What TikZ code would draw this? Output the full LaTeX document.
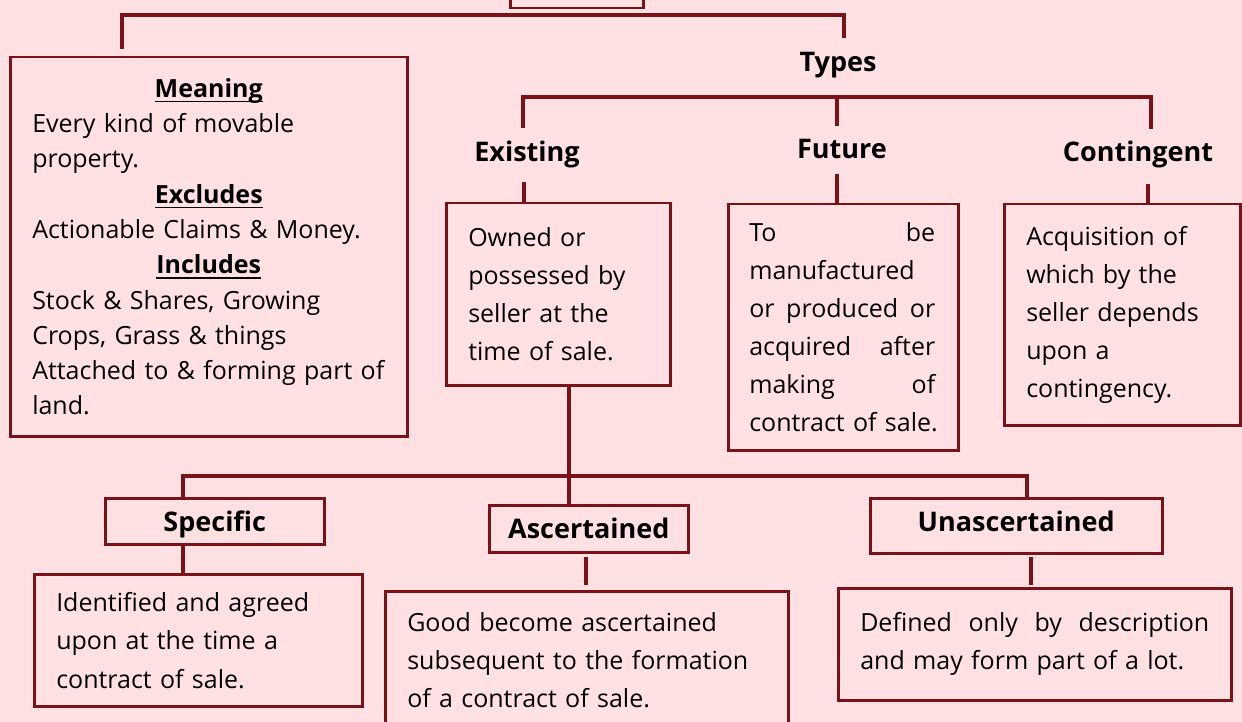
\documentclass[tikz,border=0pt]{standalone}
\usepackage{fontspec}
\setmainfont{Open Sans}
\definecolor{mline}{RGB}{123,18,25}
\definecolor{bgc}{RGB}{255,225,228}
\newcommand\myul[1]{{\setbox0\hbox{#1}\rlap{\rule[-5pt]{\wd0}{1.5pt}}\box0}}
\newcommand\myhead[1]{\makebox[\linewidth]{\myul{\textbf{#1}}}}
\newcommand\spreadline[2]{\leavevmode\hbox to #1{#2}}
\tikzset{
  conn/.style={draw=mline, line width=4pt, line join=miter},
  boxx/.style={draw=mline, line width=2.5pt, inner sep=0pt, anchor=north west, align=left},
  body/.style={font=\fontsize{25}{38}\selectfont},
  lab/.style={font=\bfseries\fontsize{27}{32}\selectfont, inner sep=0pt, anchor=base},
  labbox/.style={draw=mline, line width=2.5pt, inner sep=0pt, anchor=north west,
    font=\bfseries\fontsize{27}{32}\selectfont, text height=19.5pt, text depth=0pt},
}
\begin{document}
\begin{tikzpicture}[x=1pt,y=-1pt]
\useasboundingbox (0,0) rectangle (1242,722);
\fill[bgc] (0,0) rectangle (1242,722);
\clip (0,0) rectangle (1242,722);

% top box (cut off)
\node[boxx, minimum width=133pt, minimum height=60pt] (top) at (509,-53) {};

% Meaning box
\node[boxx, minimum width=397pt, minimum height=379pt, text width=353pt,
      font=\fontsize{25}{35.3}\selectfont] (meaning) at (9,56) {%
\myhead{Meaning}\\
Every kind of movable\\
property.\\
\myhead{Excludes}\\
Actionable Claims \& Money.\\
\myhead{Includes}\\
Stock \& Shares, Growing\\
Crops, Grass \& things\\
Attached to \& forming part of\\
land.};

% labels
\node[lab] (types) at (838,72) {Types};
\node[lab] (existing) at (527,162) {Existing};
\node[lab] (future) at (842,159) {Future};
\node[lab] (contingent) at (1138,162) {Contingent};

% type boxes
\node[boxx, body, minimum width=224pt, minimum height=182pt, text width=180pt] (exbox) at (445,202) {%
Owned or\\possessed by\\seller at the\\time of sale.};
\node[boxx, body, minimum width=230pt, minimum height=246pt, text width=188pt] (fubox) at (727,203) {%
\spreadline{186pt}{To\hfill be}\\
manufactured\\
\spreadline{186pt}{or\hfill produced\hfill or}\\
\spreadline{186pt}{acquired\hfill after}\\
\spreadline{186pt}{making\hfill of}\\
\mbox{contract of sale.}};
\node[boxx, body, minimum width=236pt, minimum height=221pt, text width=192pt] (cobox) at (1003,203) {%
Acquisition of\\which by the\\seller depends\\upon a\\contingency.};

% sub-type label boxes
\node[labbox, minimum width=219pt, minimum height=46pt] (specific) at (104,497) {Specific};
\node[labbox, minimum width=199pt, minimum height=47pt] (asc) at (488,504) {Ascertained};
\node[labbox, minimum width=292pt, minimum height=55pt, text depth=8pt] (una) at (869,497) {Unascertained};

% detail boxes
\node[boxx, font=\fontsize{25}{38.5}\selectfont, minimum width=328pt, minimum height=132pt, text width=284pt] (specd) at (33,573) {%
Identified and agreed\\upon at the time a\\contract of sale.};
\node[boxx, body, minimum width=403pt, minimum height=138pt, text width=359pt] (ascd) at (384,590) {%
Good become ascertained\\subsequent to the formation\\of a contract of sale.};
\node[boxx, body, minimum width=393pt, minimum height=112pt, text width=349pt] (unad) at (837,587) {%
\spreadline{349pt}{Defined\hfill only\hfill by\hfill description}\\and may form part of a lot.};

% connector coordinates
\coordinate (tl) at (122,49);
\coordinate (tr) at (844,38);
\coordinate (topbar) at (0,15);
\coordinate (exTop) at (523,128);
\coordinate (tyBar) at (837,97);
\coordinate (fuTop) at (837,126);
\coordinate (coTop) at (1151,129);
\coordinate (exL) at (524,182);
\coordinate (fuL) at (837,174);
\coordinate (coL) at (1148,184);
\coordinate (stem) at (569,476);
\coordinate (spx) at (183,476);
\coordinate (unx) at (1027,476);
\coordinate (ax1) at (586,557);
\coordinate (ax2) at (586,585);
\coordinate (ux1) at (1031,557);
\coordinate (ux2) at (1031,585);

% connectors
\draw[conn] (tl) -- (tl |- topbar) -- (tr |- topbar) -- (tr);
\draw[conn] (exTop) |- (tyBar) -| (coTop);
\draw[conn] (tyBar) -- (fuTop);
\draw[conn] (exL) -- (exL |- exbox.north);
\draw[conn] (fuL) -- (fuL |- fubox.north);
\draw[conn] (coL) -- (coL |- cobox.north);
\draw[conn] (stem |- exbox.south) -- (stem |- asc.north);
\draw[conn] (spx |- specific.north) -- (spx) -- (unx) -- (unx |- una.north);
\draw[conn] (spx |- specific.south) -- (spx |- specd.north);
\draw[conn] (ax1) -- (ax2);
\draw[conn] (ux1) -- (ux2);
\end{tikzpicture}
\end{document}
